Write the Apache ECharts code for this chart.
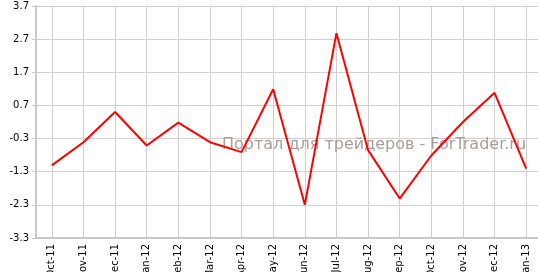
<!DOCTYPE html>
<html><head><meta charset="utf-8">
<script src="https://cdn.jsdelivr.net/npm/echarts@6/dist/echarts.min.js"></script>
<style>html,body{margin:0;padding:0;background:#fff}#c{width:538px;height:272px}</style>
</head><body><div id="c"></div>
<script>
var categories = ["Oct-11","Nov-11","Dec-11","Jan-12","Feb-12","Mar-12","Apr-12","May-12","Jun-12","Jul-12","Aug-12","Sep-12","Oct-12","Nov-12","Dec-12","Jan-13"];
var values = [-1.11,-0.41,0.50,-0.51,0.18,-0.41,-0.71,1.19,-2.30,2.88,-0.65,-2.11,-0.81,0.20,1.08,-1.21];
var yMin = -3.3, yMax = 3.7, yStep = 1;
var watermark = "Портал для трейдеров - ForTrader.ru";

var chart = echarts.init(document.getElementById('c'), null, {renderer:'canvas'});
chart.setOption({
  animation:false,
  backgroundColor:'#fff',
  grid:{left:36, top:6, right:-4, bottom:34, containLabel:false, outerBoundsMode:'none'},
  xAxis:{
    type:'category', data:categories, boundaryGap:true,
    axisLine:{onZero:false, lineStyle:{color:'#c8c8c8', width:2}},
    axisTick:{alignWithLabel:true, length:4, lineStyle:{color:'#c8c8c8'}},
    axisLabel:{rotate:90, margin:6, fontSize:10, fontFamily:'DejaVu Sans', color:'#000', interval:0},
    splitLine:{show:true, alignWithLabel:true, lineStyle:{color:'#d0d0d0', width:1}}
  },
  yAxis:{
    type:'value', min:yMin, max:yMax, interval:yStep,
    axisLine:{show:true, lineStyle:{color:'#c8c8c8', width:2}},
    axisTick:{show:true, length:4, lineStyle:{color:'#c8c8c8'}},
    axisLabel:{margin:7, fontSize:10, fontFamily:'DejaVu Sans', color:'#000', formatter:function(v){return v.toFixed(1);}},
    splitLine:{show:true, lineStyle:{color:'#d0d0d0', width:1}}
  },
  graphic:[{type:'text', left:222, top:137, z:1,
    style:{text:watermark, fontSize:16, fontFamily:'DejaVu Sans', fill:'#a89e9e'}}],
  series:[{type:'line', data:values, showSymbol:false, symbol:'none', z:5,
    lineStyle:{color:'#ff0000', width:2}}]
});
</script></body></html>
